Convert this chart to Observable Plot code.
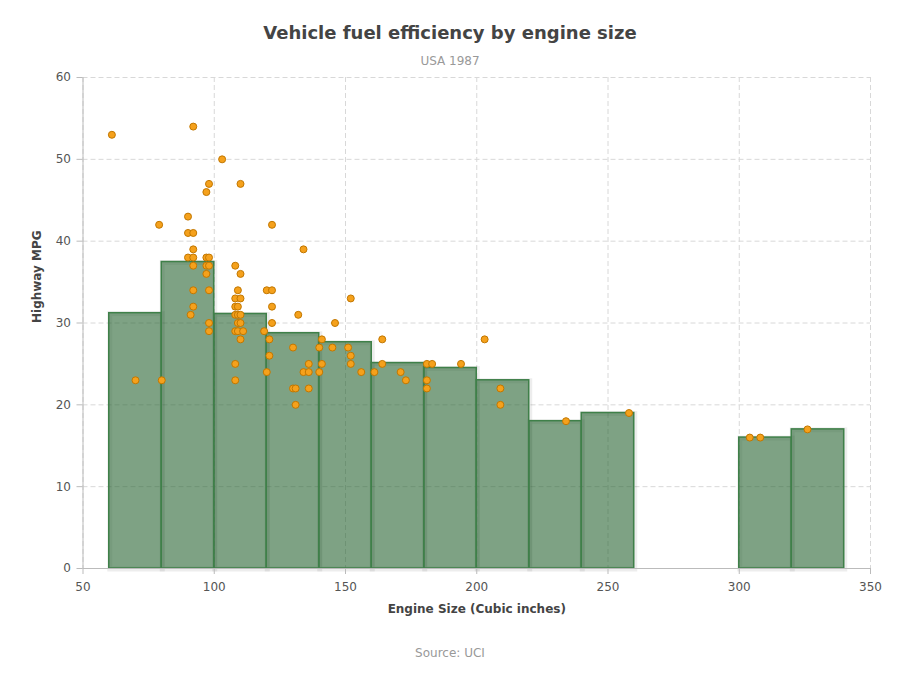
<!DOCTYPE html>
<html>
<head>
<meta charset="utf-8">
<script src="https://cdn.jsdelivr.net/npm/d3@7"></script>
<script src="https://cdn.jsdelivr.net/npm/@observablehq/plot@0.6"></script>
<style>
  html, body { margin: 0; padding: 0; background: #fff; }
  body { width: 900px; height: 700px; position: relative; font-family: "DejaVu Sans", Verdana, sans-serif; }
  .t { position: absolute; left: 0; width: 900px; text-align: center; white-space: nowrap; }
  #title { top: 22px; line-height: 22px; font-size: 18px; font-weight: bold; color: #444; }
  #subtitle { top: 54px; line-height: 14px; font-size: 12px; color: #999; }
  #caption { top: 646px; line-height: 14px; font-size: 12px; color: #999; }
  #chart { position: absolute; left: 0; top: 70px; }
</style>
</head>
<body>
<div id="title" class="t"></div>
<div id="subtitle" class="t"></div>
<div id="chart"></div>
<div id="caption" class="t"></div>
<script>
// ---- text ----
const titleText = "Vehicle fuel efficiency by engine size";
const subtitleText = "USA 1987";
const captionText = "Source: UCI";
const xLabel = ["Engine Size (Cubic inches)"];
const yLabel = ["Highway MPG"];

// ---- ticks ----
const xTicks = [50, 100, 150, 200, 250, 300, 350];
const yTicks = [0, 10, 20, 30, 40, 50, 60];

// ---- histogram bins (mean highway MPG per engine-size bin) ----
const binStart = [60, 80, 100, 120, 140, 160, 180, 200, 220, 240, 300, 320];
const binEnd   = [80, 100, 120, 140, 160, 180, 200, 220, 240, 260, 320, 340];
const binMeanMpg = [31.2, 37.45, 31.1, 28.75, 27.65, 25.1, 24.5, 23.0, 18, 19, 16, 17];

// ---- scatter points ----
const engineSize = [
  61, 70, 79, 80,
  90, 90, 92, 92, 92, 90, 92, 97, 98, 92, 97, 98, 97, 92, 98, 92, 91, 98, 98, 97, 98,
  103, 110, 108, 110, 109, 108, 110, 108, 109, 108, 109, 110, 109, 110, 108, 109, 111, 110, 108, 108,
  119, 120, 122, 122, 122, 122, 121, 121, 120, 130, 130, 131, 131, 132, 134, 134, 136, 136, 136,
  140, 140, 141, 141, 145, 146, 151, 152, 152, 152, 156,
  161, 164, 164, 171, 173,
  181, 183, 181, 181, 194,
  203, 209, 209,
  234, 258, 304, 308, 326
];
const highwayMpg = [
  53, 23, 42, 23,
  43, 41, 41, 54, 39, 38, 38, 38, 38, 37, 37, 37, 36, 34, 34, 32, 31, 30, 29, 46, 47,
  50, 47, 37, 36, 34, 33, 33, 32, 32, 31, 31, 31, 30, 30, 29, 29, 29, 28, 25, 23,
  29, 34, 34, 42, 32, 30, 28, 26, 24, 27, 22, 22, 20, 31, 39, 24, 24, 25, 22,
  27, 24, 28, 25, 27, 30, 27, 33, 26, 25, 24,
  24, 28, 25, 24, 23,
  25, 25, 23, 22, 25,
  28, 22, 20,
  18, 19, 16, 16, 17
];

const bins = binStart.map((s, i) => ({x1: s, x2: binEnd[i], mpg: binMeanMpg[i]}));
const points = engineSize.map((e, i) => ({engine: e, mpg: highwayMpg[i]}));

document.getElementById("title").textContent = titleText;
document.getElementById("subtitle").textContent = subtitleText;
document.getElementById("caption").textContent = captionText;

const chart = Plot.plot({
  width: 900,
  height: 560,
  marginTop: 7,
  marginBottom: 62,
  marginLeft: 82.5,
  marginRight: 30,
  style: {fontFamily: "DejaVu Sans, Verdana, sans-serif", fontSize: "12px", background: "#fff", overflow: "visible"},
  x: {domain: [50, 350]},
  y: {domain: [0, 60]},
  marks: [
    Plot.gridX(xTicks, {stroke: "#d8d8d8", strokeOpacity: 1, strokeDasharray: "5,3"}),
    Plot.gridY(yTicks, {stroke: "#d8d8d8", strokeOpacity: 1, strokeDasharray: "5,3"}),
    // soft shadow around the bars
    Plot.rect(bins, {x1: "x1", x2: "x2", y1: 0, y2: "mpg", fill: "none", stroke: "#000", strokeOpacity: 0.07, strokeWidth: 5, dx: 1, dy: 1}),
    Plot.rect(bins, {x1: "x1", x2: "x2", y1: 0, y2: "mpg", fill: "#286432", fillOpacity: 0.6, stroke: "#3f8049", strokeWidth: 1.5}),
    Plot.ruleY([0], {stroke: "#bbb"}),
    Plot.ruleX([50], {stroke: "#bbb"}),
    Plot.axisX(xTicks, {tickSize: 6, tickPadding: 8, stroke: "#bbb", fill: "#555", label: null}),
    Plot.axisY(yTicks, {tickSize: 6, tickPadding: 6, stroke: "#bbb", fill: "#555", label: null}),
    Plot.dot(points, {x: "engine", y: "mpg", r: 3.5, fill: "#f5a11c", stroke: "#c27700", strokeWidth: 1}),
    Plot.text(xLabel, {frameAnchor: "bottom", dy: 44, fontWeight: "bold", fill: "#444", fontSize: 12}),
    Plot.text(yLabel, {frameAnchor: "left", dx: -46, rotate: -90, fontWeight: "bold", fill: "#444", fontSize: 12})
  ]
});
document.getElementById("chart").appendChild(chart);
</script>
</body>
</html>
